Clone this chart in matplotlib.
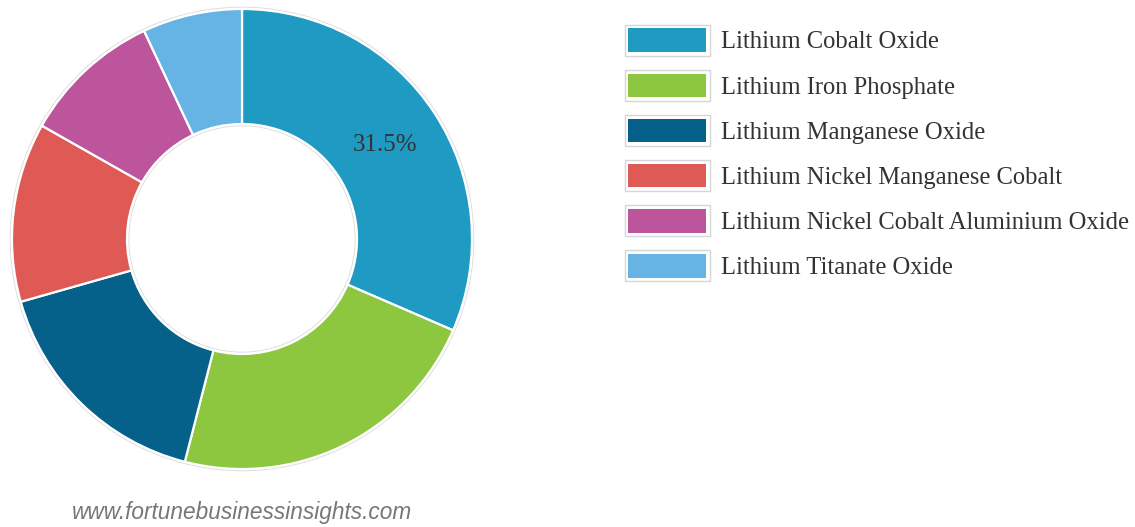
import matplotlib.pyplot as plt
from matplotlib.patches import Rectangle, Circle
from matplotlib.legend_handler import HandlerBase

# Data
segments = ['Lithium Cobalt Oxide', 'Lithium Iron Phosphate', 'Lithium Manganese Oxide',
            'Lithium Nickel Manganese Cobalt', 'Lithium Nickel Cobalt Aluminium Oxide',
            'Lithium Titanate Oxide']
shares = [31.5, 22.5, 16.6, 12.6, 9.8, 7.0]
colors = ['#1f9ac2', '#8dc63f', '#05618a', '#e05a55', '#bd559d', '#65b4e3']

W, H = 1135, 527
fig = plt.figure(figsize=(W / 100, H / 100), dpi=100)
ax = fig.add_axes([0, 0, 1, 1])

cx, cy, r_out, r_in = 242, H - 239, 230, 115

wedges, _, autotexts = ax.pie(
    shares, colors=colors, startangle=90, counterclock=False,
    center=(cx, cy), radius=r_out,
    wedgeprops=dict(width=r_out - r_in, edgecolor='white', linewidth=1.6),
    autopct=lambda p: f'{p:.1f}%' if p > 30 else '',
    pctdistance=0.745,
    textprops=dict(family='Liberation Serif', fontsize=18, color='#333333'))

# faint outline round the ring
for rad in (r_out + 1.8, r_in - 1.8):
    ax.add_patch(Circle((cx, cy), rad, fill=False, edgecolor='#dddddd', linewidth=0.7, zorder=0))

ax.set_xlim(0, W)
ax.set_ylim(0, H)
ax.set_aspect('equal')
ax.axis('off')


class BoxHandler(HandlerBase):
    def create_artists(self, legend, orig_handle, xd, yd, width, height, fontsize, trans):
        outer = Rectangle((-xd, -yd), width, height, facecolor='white',
                          edgecolor='#d6d6d6', linewidth=1.0, transform=trans)
        inner = Rectangle((-xd + 2.5, -yd + 2.5), width - 5, height - 5,
                          facecolor=orig_handle.get_facecolor(), edgecolor='none',
                          transform=trans)
        return [outer, inner]


fs = 17.7
leg = fig.legend(wedges, segments, loc='upper left',
                 bbox_to_anchor=(625 / W, 1 - 25 / H), frameon=False,
                 prop=dict(family='Liberation Serif', size=fs),
                 handlelength=3.45, handleheight=1.55, handletextpad=0.45,
                 labelspacing=0.58, borderpad=0, borderaxespad=0,
                 handler_map={type(wedges[0]): BoxHandler()})
for t in leg.get_texts():
    t.set_color('#333333')

fig.text(72 / W, 1 - 513 / H, 'www.fortunebusinessinsights.com', family='Liberation Sans',
         style='italic', fontsize=16.3, color='#777777', va='center', ha='left')

fig.savefig('out.png', dpi=100)
